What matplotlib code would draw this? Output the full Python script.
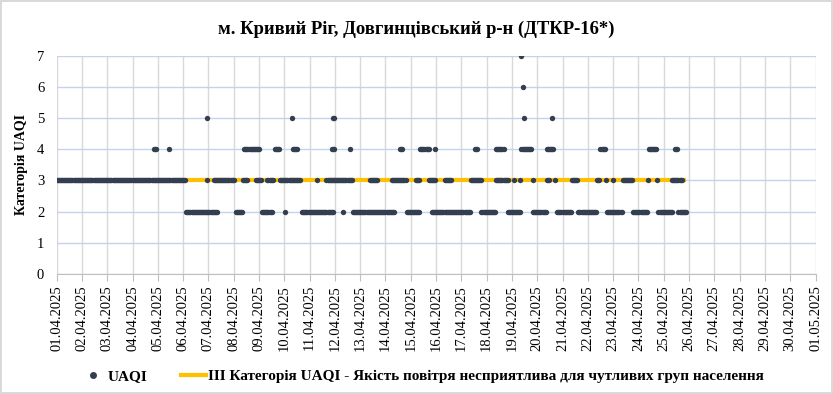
import numpy as np
import pandas as pd
import matplotlib
matplotlib.use('Agg')
import matplotlib.pyplot as plt
import matplotlib.dates as mdates
from matplotlib.lines import Line2D

plt.rcParams['font.family'] = ['Liberation Serif', 'DejaVu Serif']

start = pd.Timestamp('2025-04-01 00:00')

# hourly UAQI readings, kept as (first hour, last hour) runs counted from 01.04 00:00
cat2_hours = [(123, 152), (170, 176), (195, 204), (217, 217), (233, 262), (272, 272),
              (281, 320), (332, 344), (356, 392), (403, 416), (428, 440), (452, 464),
              (475, 488), (495, 512), (522, 536), (547, 560), (571, 584), (590, 597)]
cat3_hours = [(0, 122), (143, 143), (149, 168), (177, 181), (189, 194), (200, 205),
              (212, 231), (247, 247), (256, 280), (297, 304), (318, 331), (341, 344),
              (353, 359), (368, 374), (393, 403), (417, 428), (434, 434), (440, 440),
              (452, 452), (465, 467), (473, 473), (489, 494), (513, 515), (521, 521),
              (528, 528), (537, 546), (561, 561), (570, 570), (584, 593)]
cat4_hours = [(92, 94), (107, 107), (178, 192), (207, 211), (224, 228), (261, 263),
              (278, 278), (326, 328), (345, 353), (359, 359), (397, 399), (417, 424),
              (441, 450), (465, 471), (516, 520), (562, 569), (587, 589)]
cat5_hours = [(143, 143), (223, 223), (262, 263), (443, 443), (470, 470)]
cat6_hours = [(442, 442)]
cat7_hours = [(441, 441)]

# threshold line: III category
line_dates = ['2025-04-06 03:00', '2025-04-25 21:00']
line_values = [3, 3]

day_ticks = pd.date_range('2025-04-01', '2025-05-01', freq='D')
y_ticks = [0, 1, 2, 3, 4, 5, 6, 7]


def expand(runs):
    return np.concatenate([np.arange(a, b + 1) for a, b in runs])


levels = [(2, cat2_hours), (3, cat3_hours), (4, cat4_hours),
          (5, cat5_hours), (6, cat6_hours), (7, cat7_hours)]
hours = np.concatenate([expand(r) for v, r in levels])
vals = np.concatenate([np.full(len(expand(r)), v) for v, r in levels])
times = start + pd.to_timedelta(hours, unit='h')

fig = plt.figure(figsize=(8.33, 3.94), dpi=100)
fig.patch.set_edgecolor('#D9D9D9')
fig.patch.set_linewidth(1.5)
ax = fig.add_axes([0.068, 0.305, 0.911, 0.553])

ax.plot(pd.to_datetime(line_dates), line_values, color='#FFC000', lw=3, zorder=2,
        solid_capstyle='butt')
ax.scatter(times, vals, s=15, color='#333F50', zorder=3, linewidths=0)

ax.set_xlim(day_ticks[0], day_ticks[-1])
ax.set_ylim(0, 7)
ax.set_xticks(day_ticks)
ax.xaxis.set_major_formatter(mdates.DateFormatter('%d.%m.%Y'))
ax.set_yticks(y_ticks)
ax.tick_params(axis='x', rotation=90, labelsize=10.5, length=5, color='#BFBFBF', pad=3)
ax.tick_params(axis='y', labelsize=10.5, length=0, pad=9)

ax.grid(axis='x', color='#D9D9D9', lw=1)
ax.grid(axis='y', color='#C5D3EA', lw=1)
ax.set_axisbelow(True)
for s in ['top', 'right', 'left']:
    ax.spines[s].set_visible(False)
ax.spines['bottom'].set_color('#BFBFBF')

ax.set_ylabel('Категорія UAQI', fontsize=10, fontweight='bold', labelpad=6)
fig.suptitle('м. Кривий Ріг, Довгинцівський р-н (ДТКР-16*)', fontsize=13.4,
             fontweight='bold', y=0.948)

handles = [Line2D([], [], ls='', marker='o', ms=4, color='#333F50'),
           Line2D([], [], color='#FFC000', lw=3)]
labels = ['UAQI', 'III Категорія UAQI - Якість повітря несприятлива для чутливих груп населення']
fig.legend(handles, labels, loc='center', bbox_to_anchor=(0.507, 0.045), ncol=2,
           frameon=False, prop={'weight': 'bold', 'size': 11}, handlelength=1.6,
           columnspacing=2.2, handletextpad=0.15)

fig.savefig('out.png', dpi=100)
